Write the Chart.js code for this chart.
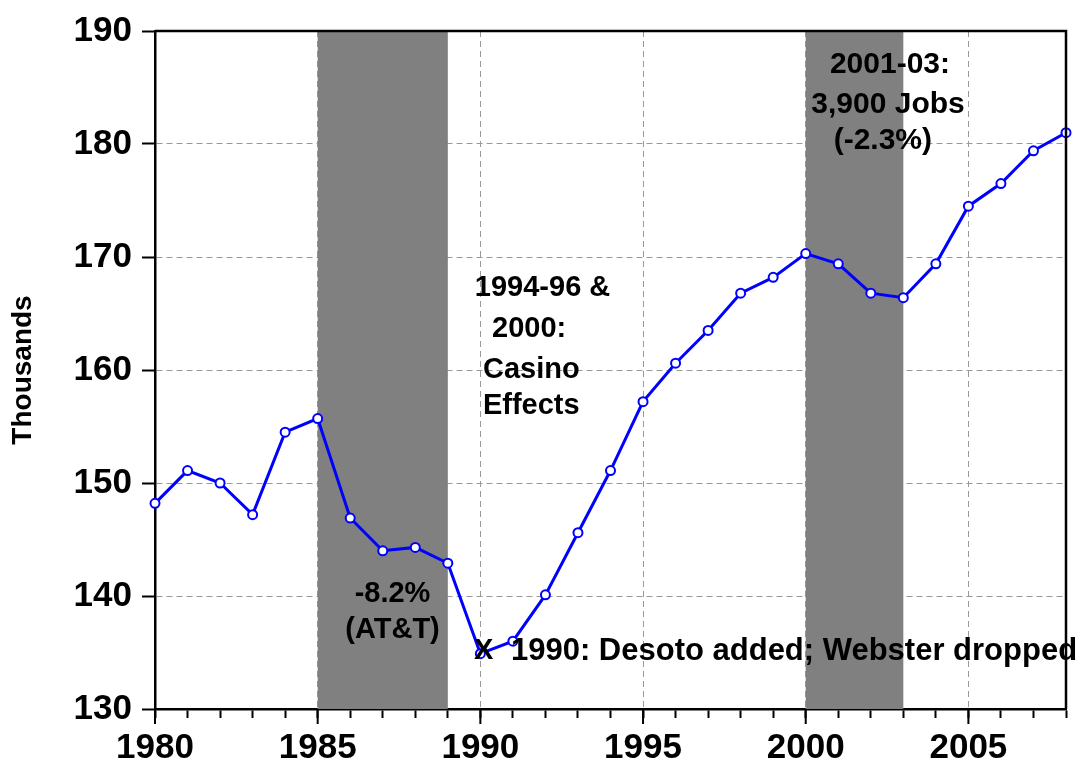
<!DOCTYPE html>
<html>
<head>
<meta charset="utf-8">
<script src="https://cdn.jsdelivr.net/npm/chart.js@4.4.1/dist/chart.umd.min.js"></script>
<style>
  html, body { margin: 0; padding: 0; background: #fff; }
  #wrap { width: 1083px; height: 768px; }
</style>
</head>
<body>
<div id="wrap"><canvas id="jobsChart"></canvas></div>
<script>
// Empregos (milhares), 1980-2008
const years = [1980, 1981, 1982, 1983, 1984, 1985, 1986, 1987, 1988, 1989,
               1990, 1991, 1992, 1993, 1994, 1995, 1996, 1997, 1998, 1999,
               2000, 2001, 2002, 2003, 2004, 2005, 2006, 2007, 2008];
const jobs = [148.2, 151.1, 150.0, 147.2, 154.5, 155.7, 146.9, 144.0, 144.3, 142.9,
              134.9, 136.0, 140.1, 145.6, 151.1, 157.2, 160.6, 163.5, 166.8, 168.2,
              170.3, 169.4, 166.8, 166.4, 169.4, 174.5, 176.5, 179.4, 181.0];
const xTickLabels = [1980, 1985, 1990, 1995, 2000, 2005];
const yTickLabels = [130, 140, 150, 160, 170, 180, 190];
const shadedSpans = [[1985, 1989], [2000, 2003]];

// textos das anotações (posição em ano / milhares)
const notes = [
    { text: '-8.2%', x: 1987.3, y: 140.2, align: 'center', size: 29 },
    { text: '(AT&T)', x: 1987.3, y: 137.0, align: 'center', size: 29 },
    { text: 'X', x: 1990.1, y: 135.1, align: 'center', size: 29 },
    { text: '1990: Desoto added; Webster dropped', x: 1990.94, y: 135.1, align: 'left', size: 31 },
    { text: '1994-96 &', x: 1989.83, y: 167.3, align: 'left', size: 29 },
    { text: '2000:', x: 1990.36, y: 163.6, align: 'left', size: 29 },
    { text: 'Casino', x: 1990.08, y: 160.0, align: 'left', size: 29 },
    { text: 'Effects', x: 1990.08, y: 156.8, align: 'left', size: 29 },
    { text: '2001-03:', x: 2002.59, y: 187.0, align: 'center', size: 30 },
    { text: '3,900 Jobs', x: 2002.53, y: 183.5, align: 'center', size: 30 },
    { text: '(-2.3%)', x: 2002.37, y: 180.3, align: 'center', size: 30 }
];

const FONT = '"Liberation Sans", Arial, sans-serif';

const extrasPlugin = {
    id: 'extras',
    beforeDatasetsDraw(chart) {
        const { ctx, chartArea, scales: { x } } = chart;
        ctx.save();
        ctx.fillStyle = '#808080';
        shadedSpans.forEach(([a, b]) => {
            const x1 = x.getPixelForValue(a);
            const x2 = x.getPixelForValue(b);
            ctx.fillRect(x1, chartArea.top, x2 - x1, chartArea.bottom - chartArea.top);
        });
        ctx.restore();
    },
    afterDraw(chart) {
        const { ctx, chartArea, scales: { x, y } } = chart;
        ctx.save();
        // anotações
        ctx.fillStyle = '#000';
        ctx.textBaseline = 'middle';
        notes.forEach(n => {
            ctx.font = 'bold ' + n.size + 'px ' + FONT;
            ctx.textAlign = n.align;
            ctx.fillText(n.text, x.getPixelForValue(n.x), y.getPixelForValue(n.y));
        });
        // moldura superior e direita
        ctx.strokeStyle = '#000';
        ctx.lineWidth = 2.5;
        ctx.beginPath();
        ctx.moveTo(chartArea.left, chartArea.top);
        ctx.lineTo(chartArea.right, chartArea.top);
        ctx.lineTo(chartArea.right, chartArea.bottom);
        ctx.stroke();
        // marcas maiores a cada 5 anos
        ctx.lineWidth = 2;
        xTickLabels.forEach(v => {
            const px = x.getPixelForValue(v);
            ctx.beginPath();
            ctx.moveTo(px, chartArea.bottom);
            ctx.lineTo(px, chartArea.bottom + 15);
            ctx.stroke();
        });
        ctx.restore();
    }
};

new Chart(document.getElementById('jobsChart'), {
    type: 'line',
    data: {
        labels: years,
        datasets: [{
            data: years.map((yr, i) => ({ x: yr, y: jobs[i] })),
            borderColor: '#0000ff',
            borderWidth: 3,
            pointRadius: 4.5,
            pointBackgroundColor: '#ffffff',
            pointBorderColor: '#0000ff',
            pointBorderWidth: 2,
            tension: 0,
            clip: false
        }]
    },
    options: {
        responsive: true,
        maintainAspectRatio: false,
        animation: false,
        layout: { padding: { top: 28, right: 17, left: 0, bottom: 0 } },
        plugins: {
            legend: { display: false },
            tooltip: { enabled: false }
        },
        scales: {
            x: {
                type: 'linear',
                min: 1980,
                max: 2008,
                afterFit: s => { s.height = 59; },
                afterBuildTicks: s => {
                    s.ticks = years.map(v => ({ value: v }));
                },
                ticks: {
                    autoSkip: false,
                    maxRotation: 0,
                    padding: 9,
                    color: '#000',
                    font: { family: FONT, size: 35, weight: 'bold' },
                    callback: v => xTickLabels.includes(v) ? String(v) : ''
                },
                grid: {
                    color: c => (c.tick && xTickLabels.includes(c.tick.value) && c.tick.value !== 1980) ? '#999999' : 'rgba(0,0,0,0)',
                    lineWidth: 1,
                    tickLength: 9,
                    tickColor: '#000',
                    tickWidth: 2,
                    tickBorderDash: []
                },
                border: { display: true, color: '#000', width: 2.5, dash: [6, 4] }
            },
            y: {
                min: 130,
                max: 190,
                afterFit: s => { s.width = 155; },
                afterBuildTicks: s => {
                    s.ticks = yTickLabels.map(v => ({ value: v }));
                },
                ticks: {
                    padding: 10,
                    color: '#000',
                    font: { family: FONT, size: 35, weight: 'bold' }
                },
                grid: {
                    color: c => (c.tick && c.tick.value !== 130 && c.tick.value !== 190) ? '#999999' : 'rgba(0,0,0,0)',
                    lineWidth: 1,
                    tickLength: 13,
                    tickColor: '#000',
                    tickWidth: 2,
                    tickBorderDash: []
                },
                border: { display: true, color: '#000', width: 2.5, dash: [6, 4] },
                title: {
                    display: true,
                    text: 'Thousands',
                    color: '#000',
                    font: { family: FONT, size: 28, weight: 'bold' },
                    padding: { top: 6, bottom: 0 }
                }
            }
        }
    },
    plugins: [extrasPlugin]
});
</script>
</body>
</html>
